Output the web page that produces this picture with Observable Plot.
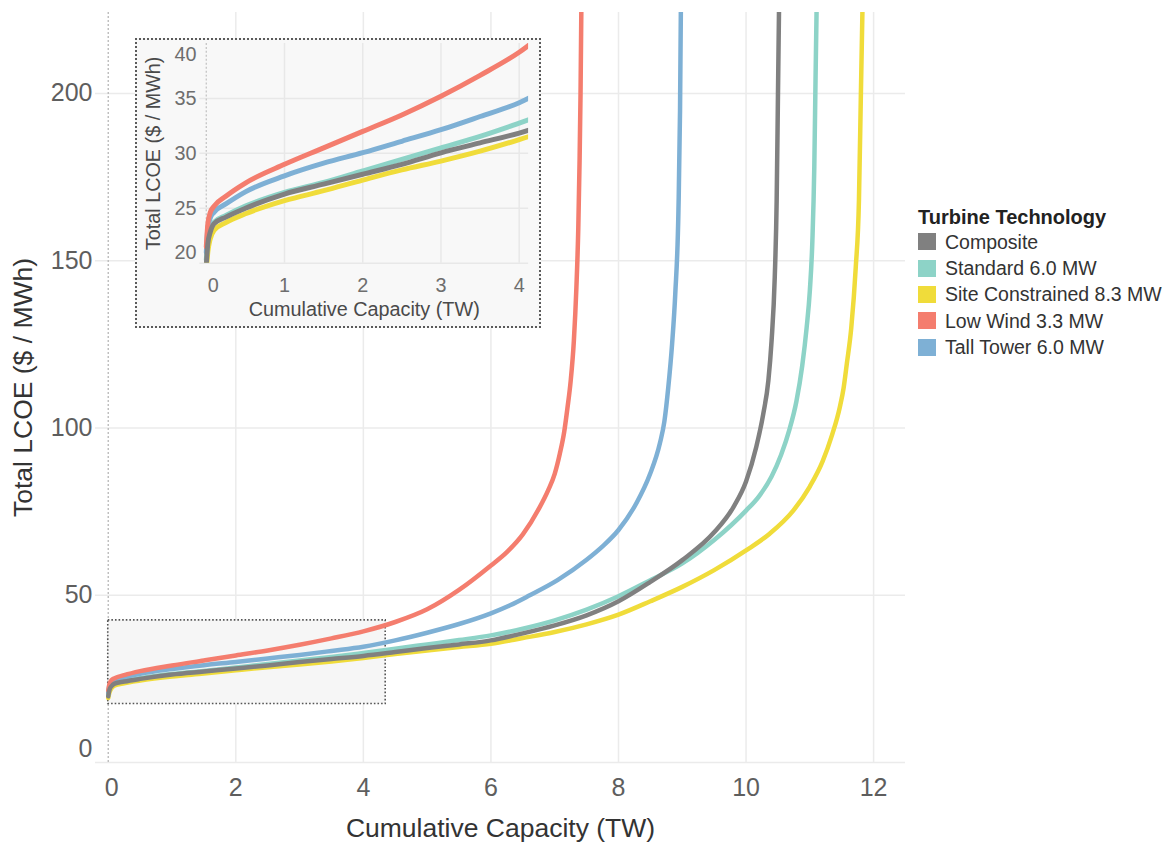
<!DOCTYPE html>
<html><head><meta charset="utf-8">
<script src="https://cdn.jsdelivr.net/npm/d3@7"></script>
<script src="https://cdn.jsdelivr.net/npm/@observablehq/plot@0.6"></script>
<style>
body{margin:0;background:#fff;font-family:"Liberation Sans",Arial,Helvetica,sans-serif;}
#wrap{position:relative;width:1172px;height:843px;overflow:hidden;}
#main{position:absolute;left:0;top:0;}
#inset{position:absolute;left:135px;top:38px;width:406px;height:290px;box-sizing:border-box;border:2px dotted #5a5a5a;background:#f8f8f8;}
#inset svg{position:absolute;left:-2px;top:-2px;overflow:visible;}
#legend{position:absolute;left:918px;top:204.7px;color:#333;}
#legend .lt{font-weight:bold;font-size:20px;line-height:24px;color:#222;white-space:nowrap;}
#legend .li{font-size:19.5px;height:26.3px;line-height:26.3px;white-space:nowrap;display:flex;align-items:center;}
#legend .sw{display:inline-block;width:18px;height:17px;margin-right:9px;}
</style></head><body>
<div id="wrap"><div id="main"></div><div id="inset"></div><div id="legend"></div></div>
<script>
// ---- data ----
const seriesNames = ["Composite", "Standard 6.0 MW", "Site Constrained 8.3 MW", "Low Wind 3.3 MW", "Tall Tower 6.0 MW"];
const seriesColors = ["#808080", "#8dd3c7", "#f0dc3a", "#f47d6e", "#7eb0d5"];
const legendTitle = "Turbine Technology";
const xTitle = "Cumulative Capacity (TW)";
const yTitle = "Total LCOE ($ / MWh)";
const xTicks = [0, 2, 4, 6, 8, 10, 12];
const yTicks = [0, 50, 100, 150, 200];
const insetXTicks = [0, 1, 2, 3, 4];
const insetYTicks = [20, 25, 30, 35, 40];
const zoomBoxX = [0, 4.35];
const zoomBoxY = [17.5, 42.5];

// [capacity TW, LCOE $/MWh]
const composite = [[0,19.8],[0.02,21.8],[0.05,22.8],[0.1,23.6],[0.25,24.2],[0.5,25.0],[1,26.3],[1.5,27.2],[2,28.1],[2.5,29.0],[3,30.05],[3.5,30.95],[4,31.85],[4.5,33.0],[5,34.2],[5.5,35.3],[6,36.5],[6.5,38.6],[7,41.0],[7.5,44.0],[8,48.2],[8.5,54.0],[9,60.5],[9.5,68.8],[9.8,76.3],[10,84.0],[10.16,94.3],[10.27,104.2],[10.35,114.2],[10.4,126],[10.45,145],[10.48,168],[10.5,199],[10.52,230]];
const standard = [[0,20.3],[0.02,22.2],[0.05,23.1],[0.1,23.75],[0.25,24.35],[0.5,25.2],[1,26.45],[1.5,27.35],[2,28.4],[2.5,29.45],[3,30.5],[3.5,31.55],[4,32.75],[4.5,34.0],[5,35.3],[5.5,36.6],[6,38.0],[6.5,40.0],[7,42.5],[7.5,45.7],[8,49.7],[8.5,54.5],[9,59.5],[9.5,66.5],[10,75.3],[10.2,79.5],[10.4,85.5],[10.55,92],[10.68,99.5],[10.79,108],[10.88,118.5],[10.95,130],[11.0,141],[11.04,156],[11.07,178],[11.09,205],[11.11,230]];
const siteConstrained = [[0,19.3],[0.02,21.0],[0.05,22.2],[0.1,23.0],[0.25,23.7],[0.5,24.5],[1,25.7],[1.5,26.6],[2,27.57],[2.5,28.5],[3,29.3],[3.5,30.2],[4,31.25],[4.5,32.4],[5,33.5],[5.5,34.5],[6,35.5],[6.5,37.2],[7,39.0],[7.5,41.3],[8,44.2],[8.5,48.2],[9,52.5],[9.5,57.5],[10,63.4],[10.37,68.4],[10.74,75.3],[11.0,82.5],[11.2,90.0],[11.35,98],[11.47,106.2],[11.53,112],[11.58,119.2],[11.65,130],[11.72,148],[11.77,168],[11.8,199.4],[11.83,230]];
const lowWind = [[0,21.5],[0.02,23.6],[0.05,24.6],[0.1,25.2],[0.25,26.1],[0.5,27.3],[1,29.0],[1.5,30.5],[2,32.0],[2.5,33.5],[3,35.2],[3.5,37.1],[4,39.2],[4.5,42.0],[5,45.8],[5.5,51.6],[6,58.9],[6.25,62.9],[6.5,68.2],[6.75,75.8],[6.9,81.5],[7.0,86.3],[7.08,92.3],[7.15,99.0],[7.2,106],[7.25,114],[7.3,126],[7.34,142],[7.37,160],[7.39,180],[7.405,200],[7.42,230]];
const tallTower = [[0,21.0],[0.02,23.2],[0.05,24.1],[0.1,24.65],[0.25,25.4],[0.5,26.5],[1,27.95],[1.5,29.1],[2,30.06],[2.5,31.1],[3,32.15],[3.5,33.35],[4,34.6],[4.5,36.5],[5,38.8],[5.5,41.4],[6,44.6],[6.3,47.0],[6.6,49.9],[7.05,54.6],[7.5,60.6],[7.75,64.6],[8,69.5],[8.28,77.5],[8.49,86.0],[8.65,95.5],[8.72,102],[8.78,112],[8.84,125],[8.89,140],[8.94,165],[8.965,195],[8.98,230]];

// drawing order (bottom to top)
const drawOrder = [
  ["Site Constrained 8.3 MW", siteConstrained],
  ["Standard 6.0 MW", standard],
  ["Tall Tower 6.0 MW", tallTower],
  ["Low Wind 3.3 MW", lowWind],
  ["Composite", composite]
];
const rows = drawOrder.flatMap(([s, pts]) => pts.map(([x, y]) => ({series: s, x, y})));

const FONT = "Liberation Sans, Arial, Helvetica, sans-serif";
const gridStyle = {stroke: "#ebebeb", strokeOpacity: 1, strokeWidth: 1.5};

// ---- main chart ----
const main = Plot.plot({
  width: 910, height: 843,
  marginLeft: 95, marginRight: 5, marginTop: 12, marginBottom: 81,
  x: {domain: [-0.2, 12.5]},
  y: {domain: [0, 224.2]},
  color: {domain: seriesNames, range: seriesColors},
  style: {fontFamily: FONT, background: "transparent", overflow: "visible"},
  marks: [
    Plot.gridX(xTicks.filter(d => d !== 0), gridStyle),
    Plot.gridY(yTicks, gridStyle),
    Plot.ruleX([0], {stroke: "#bdbdbd", strokeDasharray: "2,2", strokeWidth: 1.4}),
    Plot.rect([{x1: zoomBoxX[0], x2: zoomBoxX[1], y1: zoomBoxY[0], y2: zoomBoxY[1]}],
      {x1: "x1", x2: "x2", y1: "y1", y2: "y2", fill: "#f6f6f6", stroke: "#555", strokeDasharray: "1.6,2", strokeWidth: 1.6}),
    Plot.line(rows, {x: "x", y: "y", z: "series", stroke: "series", strokeWidth: 4.5, curve: "monotone-x", clip: true}),
    Plot.axisX(xTicks.filter(d => d !== 0), {tickSize: 0, tickPadding: 16, fontSize: 25, color: "#5e5e5e", label: null}),
    Plot.axisX([0], {tickSize: 0, tickPadding: 16, fontSize: 25, color: "#5e5e5e", label: null, dx: 3.5}),
    Plot.axisY(yTicks.filter(d => d !== 0), {tickSize: 0, tickPadding: 3, fontSize: 25, color: "#5e5e5e", label: null}),
    Plot.axisY([0], {tickSize: 0, tickPadding: 3, fontSize: 25, color: "#5e5e5e", label: null, dy: -14}),
    Plot.text([xTitle], {text: d => d, frameAnchor: "bottom", textAnchor: "middle", lineAnchor: "middle", dy: 66, fontSize: 26.5, fill: "#333"}),
    Plot.text([yTitle], {text: d => d, frameAnchor: "left", textAnchor: "middle", lineAnchor: "middle", dx: -72, rotate: -90, fontSize: 26.5, fill: "#333"})
  ]
});
document.getElementById("main").append(main);

// ---- inset ----
const inset = Plot.plot({
  width: 406, height: 290,
  marginLeft: 65, marginRight: 9, marginTop: 5, marginBottom: 63,
  x: {domain: [-0.082, 4.12]},
  y: {domain: [20, 40]},
  color: {domain: seriesNames, range: seriesColors},
  style: {fontFamily: FONT, background: "transparent", overflow: "visible"},
  marks: [
    Plot.gridX(insetXTicks.filter(d => d !== 0), {stroke: "#e8e8e8", strokeOpacity: 1, strokeWidth: 1.5}),
    Plot.gridY(insetYTicks.filter(d => d !== 40), {stroke: "#e8e8e8", strokeOpacity: 1, strokeWidth: 1.5}),
    Plot.ruleX([0], {stroke: "#c4c4c4", strokeDasharray: "2,2", strokeWidth: 1.3}),
    Plot.line(rows.filter(d => d.x <= 4.6), {x: "x", y: "y", z: "series", stroke: "series", strokeWidth: 5, curve: "monotone-x", clip: true}),
    Plot.axisX(insetXTicks.filter(d => d !== 0), {tickSize: 0, tickPadding: 15, fontSize: 20, color: "#6e6e6e", label: null}),
    Plot.axisX([0], {tickSize: 0, tickPadding: 15, fontSize: 20, color: "#6e6e6e", label: null, dx: 7}),
    Plot.axisY([25, 30, 35], {tickSize: 0, tickPadding: 3.3, fontSize: 20, color: "#6e6e6e", label: null}),
    Plot.axisY([20], {tickSize: 0, tickPadding: 3.3, fontSize: 20, color: "#6e6e6e", label: null, dy: -11}),
    Plot.axisY([40], {tickSize: 0, tickPadding: 3.3, fontSize: 20, color: "#6e6e6e", label: null, dy: 11}),
    Plot.text([xTitle], {text: d => d, frameAnchor: "bottom", textAnchor: "middle", lineAnchor: "middle", dy: 47, fontSize: 20, fill: "#4a4a4a"}),
    Plot.text([yTitle], {text: d => d, frameAnchor: "left", textAnchor: "middle", lineAnchor: "middle", dx: -47, rotate: -90, fontSize: 20, fill: "#4a4a4a"})
  ]
});
document.getElementById("inset").append(inset);

// ---- legend ----
const leg = document.getElementById("legend");
const lt = document.createElement("div");
lt.className = "lt"; lt.textContent = legendTitle;
leg.append(lt);
seriesNames.forEach((n, i) => {
  const row = document.createElement("div");
  row.className = "li";
  const sw = document.createElement("span");
  sw.className = "sw"; sw.style.background = seriesColors[i];
  row.append(sw, document.createTextNode(n));
  leg.append(row);
});
</script>
</body></html>
